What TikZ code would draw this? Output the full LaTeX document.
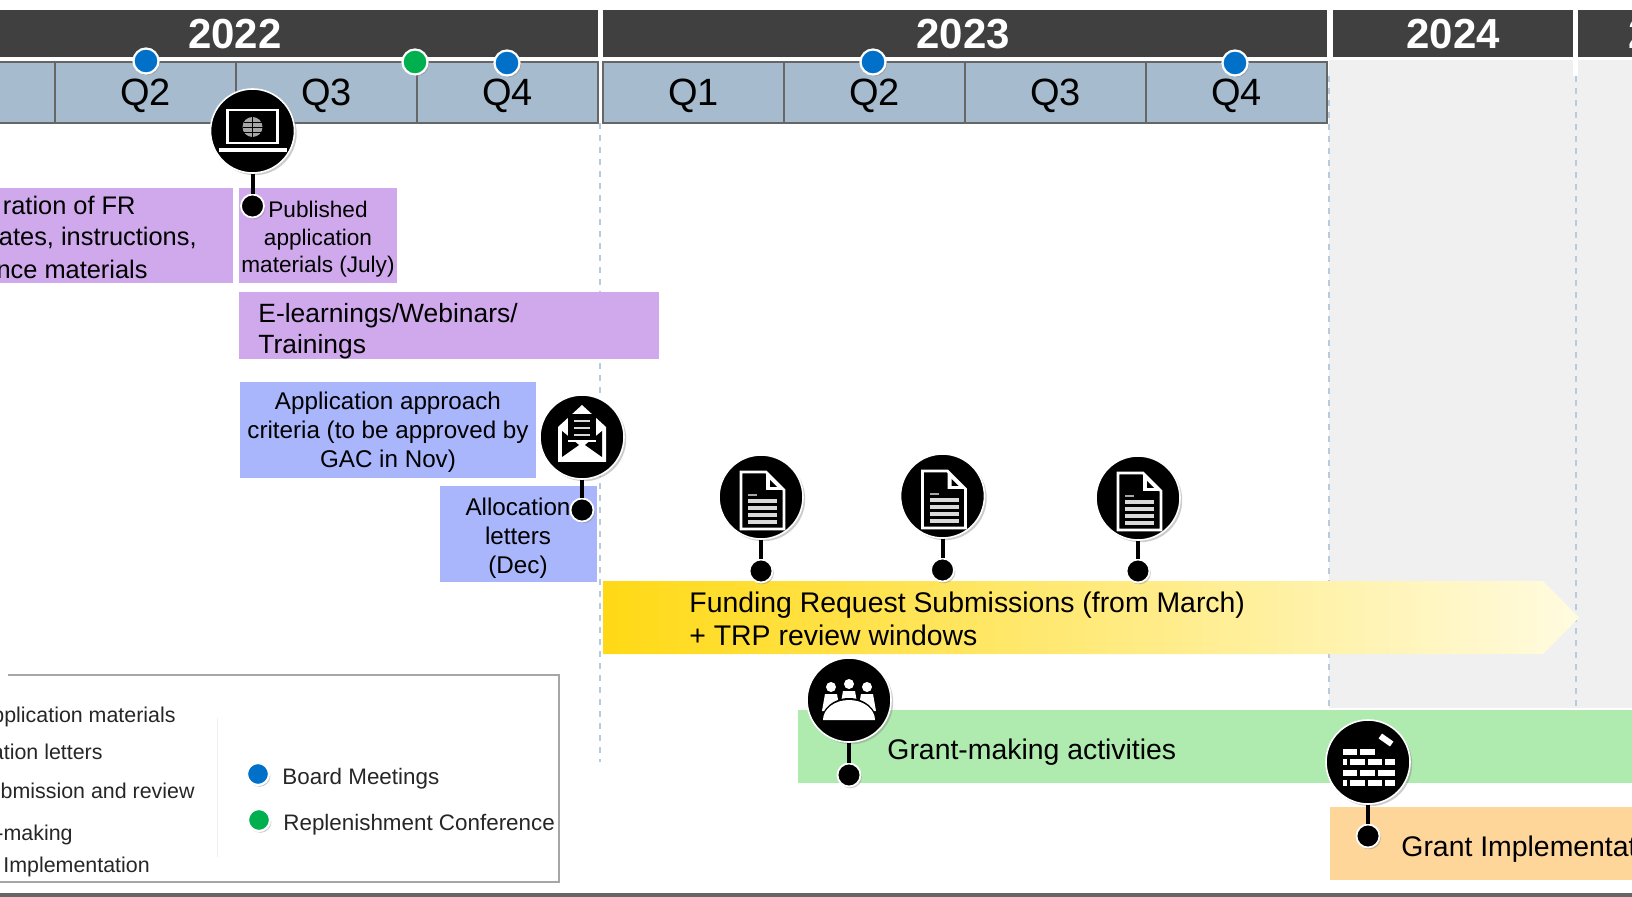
\documentclass[tikz,border=0pt]{standalone}
\usepackage{fontspec}
\setmainfont{Liberation Sans}
\usepackage{xcolor}
\usetikzlibrary{shadows}

\definecolor{barcol}{HTML}{404040}
\definecolor{quartercol}{HTML}{A6BBCD}
\definecolor{purplecol}{HTML}{CFA9EC}
\definecolor{bluecol}{HTML}{A9B6FB}
\definecolor{greencol}{HTML}{AFEBAE}
\definecolor{orangecol}{HTML}{FFD699}
\definecolor{boardcol}{HTML}{0070C9}
\definecolor{confcol}{HTML}{00B04F}
\definecolor{gridcol}{HTML}{B7CBDD}
\definecolor{fundstart}{HTML}{FFD915}
\definecolor{fundmid}{HTML}{FFE96E}
\definecolor{fundend}{HTML}{FFFBE0}

% white glyphs for the black discs
\newcommand{\pageicon}[1]{
    \begin{scope}[shift={(#1)}]
        \draw[white, line width=1.4pt, fill=black] (-20,-25) -- (5,-25) -- (23,-7) -- (23,32) -- (-20,32) -- cycle;
        \fill[white] (5,-25) -- (23,-7) -- (5,-7) -- cycle;
        \fill[black] (9,-17) -- (16,-10) -- (9,-10) -- cycle;
        \draw[gray!70, line width=1.2pt] (-13,-2) -- (-4,-2);
        \foreach \ypos in {4,11,18,25} {
            \draw[gray!30, line width=1.8pt] (-13,\ypos) -- (16,\ypos);
        }
    \end{scope}
}
\newcommand{\laptopicon}[1]{
    \begin{scope}[shift={(#1)}]
        \draw[white, line width=1.4pt] (-25,-21) rectangle (25,12);
        \fill[gray!70] (0,-4) circle (10);
        \draw[black, line width=0.3pt] (0,-14) -- (0,6) (-10,-4) -- (10,-4) (-9,-9) -- (9,-9) (-9,1) -- (9,1);
        \draw[white, line width=1.8pt] (-34,19) -- (34,19);
    \end{scope}
}
\newcommand{\lettericon}[1]{
    \begin{scope}[shift={(#1)}]
        \fill[white] (-24,-10) -- (0,-32) -- (24,-10) -- (24,25) -- (-24,25) -- cycle;
        \fill[black] (-14,-23) rectangle (14,4);
        \fill[black] (-20,-6) -- (-3,8) -- (-20,20) -- cycle;
        \fill[black] (20,-6) -- (3,8) -- (20,20) -- cycle;
        \draw[white, line width=1.2pt] (-14,4) -- (14,4);
        \foreach \ypos in {-16,-9,-2} {
            \draw[gray!30, line width=1.4pt] (-8,\ypos) -- (8,\ypos);
        }
    \end{scope}
}
\newcommand{\meetingicon}[1]{
    \begin{scope}[shift={(#1)}]
        \foreach \xpos/\top in {-18/-13,0/-16,18/-13} {
            \fill[white] (\xpos,\top) circle (5);
            \fill[white] (\xpos-6,\top+7) -- (\xpos+6,\top+7) -- (\xpos+9,\top+24) -- (\xpos-9,\top+24) -- cycle;
        }
        \fill[black] (-28,22) arc (180:360:28 and 24) -- cycle;
        \fill[white] (-26,20) arc (180:360:26 and 20) -- cycle;
    \end{scope}
}
\newcommand{\brickicon}[1]{
    \begin{scope}[shift={(#1)}]
        \foreach \xa/\xb in {-25/-11,-8/7} {
            \fill[white] (\xa,-13) rectangle (\xb,-7);
        }
        \foreach \ypos in {-3,18} {
            \foreach \xa/\xb in {-25/-21,-18/-3,0/14,17/27} {
                \fill[white] (\xa,\ypos) rectangle (\xb,\ypos+6);
            }
        }
        \foreach \xa/\xb in {-25/-11,-8/7,10/27} {
            \fill[white] (\xa,8) rectangle (\xb,14);
        }
        \fill[white, rotate around={-35:(18,-22)}] (11,-25) rectangle (25,-19);
    \end{scope}
}

\begin{document}
\begin{tikzpicture}[
        x=0.5pt, y=-0.5pt,
        font=\fontsize{12.7}{15}\selectfont,
        yearbar/.style={fill=barcol},
        yearlabel/.style={text=white, font=\fontsize{21}{25}\bfseries\selectfont},
        quarter/.style={draw=black!60, line width=0.6pt, fill=quartercol},
        quarterlabel/.style={font=\fontsize{19}{22}\selectfont},
        grid line/.style={dashed, draw=gridcol, line width=0.7pt},
        activity/.style={inner sep=0pt},
        smalltext/.style={font=\fontsize{11.3}{13.8}\selectfont, align=center},
        midtext/.style={font=\fontsize{12.1}{14.6}\selectfont, align=center},
        largetext/.style={font=\fontsize{14.2}{17}\selectfont},
        legendtext/.style={font=\fontsize{10.7}{12}\selectfont, text=black!85},
        legendside/.style={font=\fontsize{11.2}{13}\selectfont, text=black!85},
        meeting/.style={circle, inner sep=0pt, minimum size=12.5pt, draw=white, line width=1.1pt, drop shadow={shadow xshift=0.7pt, shadow yshift=-0.9pt, opacity=0.4}},
        icon/.style={circle, inner sep=0pt, fill=black, minimum size=42pt, draw=white, line width=0.8pt, drop shadow={shadow xshift=1.1pt, shadow yshift=-1.1pt, opacity=0.4}},
        pin/.style={circle, inner sep=0pt, fill=black, minimum size=11.5pt, draw=white, line width=0.9pt, drop shadow={shadow xshift=0.7pt, shadow yshift=-0.9pt, opacity=0.4}},
        stem/.style={black, line width=2pt}
    ]
        \useasboundingbox (0,0) rectangle (1632,897);
        \clip (0,0) rectangle (1632,897);

        % backdrop of the later years
        \fill[gray!12] (1329,60) rectangle (1632,708);
        \fill[white] (1573,60) rectangle (1578,76);
        \draw[grid line] (600,123) -- (600,762);
        \draw[grid line] (1329,76) -- (1329,708);
        \draw[grid line] (1576,76) -- (1576,708);

        % years
        \fill[yearbar] (-5,10) rectangle (598,57);
        \fill[yearbar] (603,10) rectangle (1327,57);
        \fill[yearbar] (1333,10) rectangle (1573,57);
        \fill[yearbar] (1578,10) rectangle (1640,57);
        \node[yearlabel] (y2022) at (235,34) {2022};
        \node[yearlabel] (y2023) at (963,34) {2023};
        \node[yearlabel] (y2024) at (1453,34) {2024};
        \node[yearlabel, anchor=west, inner sep=0pt] (y2025) at (1628,34) {2};

        % quarters
        \draw[quarter] (-5,62) rectangle (55,123);
        \foreach \name/\xa/\xb/\qtext in {a/55/236/Q2, b/236/417/Q3, c/417/598/Q4, d/603/784/Q1, e/784/965/Q2, f/965/1146/Q3, g/1146/1327/Q4} {
            \draw[quarter] (\xa,62) rectangle (\xb,123);
            \node[quarterlabel] (q\name) at ({(\xa+\xb)/2},96) {\qtext};
        }

        % activity bars
        \node[activity, fill=purplecol, minimum width=118pt, minimum height=47.5pt] (prep) at (115,235.5) {};
        \node[anchor=east, inner sep=0pt] (prepa) at (136,205) {ration of FR};
        \node[anchor=east, inner sep=0pt] (prepb) at (197,238) {ates, instructions,};
        \node[anchor=east, inner sep=0pt] (prepc) at (148,269) {nce materials};
        \node[activity, fill=purplecol, minimum width=79pt, minimum height=47.5pt] (published) at (318,235.5) {};
        \node[smalltext] (publishedtext) at (318,239.5) {Published\\application\\materials (July)};
        \node[activity, fill=purplecol, minimum width=210pt, minimum height=33.5pt] (learning) at (449,326) {};
        \node[anchor=west, align=left, inner sep=0pt, font=\fontsize{13.2}{15.6}\selectfont] (learningtext) at (258,331.5) {E-learnings/Webinars/\\Trainings};
        \node[activity, fill=bluecol, minimum width=148pt, minimum height=48pt] (approach) at (388,430.5) {};
        \node[midtext] (approachtext) at (388,432) {Application approach\\criteria (to be approved by\\GAC in Nov)};
        \node[activity, fill=bluecol, minimum width=78.5pt, minimum height=48pt] (letters) at (518.5,534) {};
        \node[midtext] (letterstext) at (518,538) {Allocation\\letters\\(Dec)};

        \shade[left color=fundstart, middle color=fundmid, right color=fundend]
            (603,581) -- (1543,581) -- (1579,617.5) -- (1543,654) -- (603,654) -- cycle;
        \node[anchor=west, align=left, inner sep=0pt, largetext, font=\fontsize{14.2}{16.6}\selectfont] (funding) at (689,619) {Funding Request Submissions (from March)\\+ TRP review windows};

        \fill[greencol] (798,710) rectangle (1640,783);
        \node[anchor=west, inner sep=0pt, largetext] (grantmaking) at (887,752) {Grant-making activities};
        \fill[orangecol] (1330,807) rectangle (1640,880);
        \node[anchor=west, inner sep=0pt, largetext] (implementation) at (1401,849) {Grant Implementat};

        % legend
        \draw[gray!70, line width=0.6pt] (8,675) -- (559,675) -- (559,882) -- (-5,882);
        \draw[gray!12, line width=0.4pt] (217,718) -- (217,857);
        \node[legendtext, anchor=east, inner sep=0pt] (lega) at (176,717) {pplication materials};
        \node[legendtext, anchor=east, inner sep=0pt] (legb) at (103,752) {ation letters};
        \node[legendtext, anchor=east, inner sep=0pt] (legc) at (195,791) {bmission and review};
        \node[legendtext, anchor=east, inner sep=0pt] (legd) at (73,835) {-making};
        \node[legendtext, anchor=west, inner sep=0pt] (lege) at (3,867) {Implementation};
        \node[meeting, fill=boardcol, minimum size=11pt] (legboard) at (258,774) {};
        \node[meeting, fill=confcol, minimum size=11pt] (legconf) at (259,820) {};
        \node[legendside, anchor=west, inner sep=0pt] (legboardtext) at (282,779) {Board Meetings};
        \node[legendside, anchor=west, inner sep=0pt] (legconftext) at (283,825) {Replenishment Conference};

        % meetings on the timeline
        \node[meeting, fill=boardcol] (boarda) at (146,61) {};
        \node[meeting, fill=confcol] (conf) at (415,62) {};
        \node[meeting, fill=boardcol] (boardb) at (507,63) {};
        \node[meeting, fill=boardcol] (boardc) at (873,62) {};
        \node[meeting, fill=boardcol] (boardd) at (1235,63) {};

        % milestones
        \foreach \name/\xpos/\ypos/\piny in {laptop/252.5/131/206, letter/582/437/510, pagea/761/497/571, pageb/942.5/496/570, pagec/1138/498/571, table/849/700/775, brick/1368/762/836} {
            \node[pin] (\name dot) at (\xpos,\piny) {};
            \node[icon] (\name) at (\xpos,\ypos) {};
            \draw[stem] (\name.south) -- (\name dot.north);
        }
        \laptopicon{laptop}
        \lettericon{letter}
        \pageicon{pagea}
        \pageicon{pageb}
        \pageicon{pagec}
        \meetingicon{table}
        \brickicon{brick}

        \fill[black!60] (0,893) rectangle (1632,897);
    \end{tikzpicture}
\end{document}
